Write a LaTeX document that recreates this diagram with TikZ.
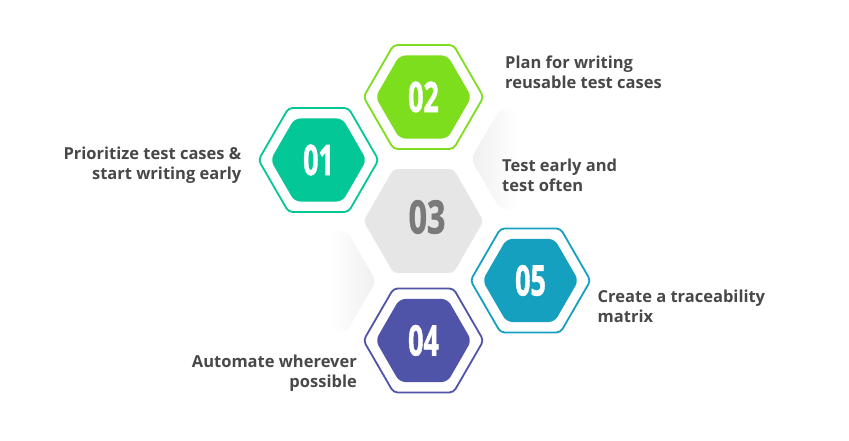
\documentclass[tikz,border=0pt]{standalone}
\usepackage{fontspec}
\setmainfont{Open Sans}
\newfontfamily\numfont[BoldFeatures={FakeBold=1.6}]{Open Sans}
\usetikzlibrary{shapes.geometric,positioning}

\definecolor{tealgreen}{RGB}{3,199,151}
\definecolor{limegreen}{RGB}{124,222,28}
\definecolor{oceanblue}{RGB}{20,160,190}
\definecolor{indigo}{RGB}{80,84,168}
\definecolor{hexgray}{RGB}{230,230,230}
\definecolor{numgray}{RGB}{122,122,122}
\definecolor{txtgray}{RGB}{72,72,72}
\definecolor{ghostgray}{RGB}{220,220,220}

\pgfdeclarehorizontalshading{fadetoright}{100bp}{color(0bp)=(ghostgray); color(45bp)=(white); color(100bp)=(white)}
\pgfdeclarehorizontalshading{fadetoleft}{100bp}{color(0bp)=(white); color(55bp)=(white); color(100bp)=(ghostgray)}

\begin{document}
\begin{tikzpicture}[x=1pt, y=1pt,
  hexring/.style={regular polygon, regular polygon sides=6, minimum size=120pt, inner sep=0pt, draw, line width=1.8pt, rounded corners=4pt},
  hexfill/.style={regular polygon, regular polygon sides=6, minimum size=96pt, inner sep=0pt, rounded corners=6pt, text=white},
  ghost/.style={regular polygon, regular polygon sides=6, minimum size=116pt, inner sep=0pt, rounded corners=6pt},
  num/.style={font=\fontsize{42}{42}\numfont\bfseries},
  caption/.style={font=\fontsize{16.5}{20}\selectfont\bfseries, text=txtgray, inner sep=0pt},
  node distance=10pt, on grid
]
\useasboundingbox[fill=white] (0,0) rectangle (849,441);
\node[hexring, draw=none, fill=hexgray] (h03) at (423.5,220) {};
\node[font=\fontsize{46}{46}\numfont\bfseries, text=numgray, inner sep=0pt] (n03) at ([xshift=3.5pt,yshift=4pt]h03.center) {\scalebox{0.7}[1]{03}};
\node[ghost, shading=fadetoright, above right=62pt and 105.5pt of h03] (ghostR) {};
\node[ghost, shading=fadetoleft, below left=60pt and 105.5pt of h03] (ghostL) {};
\node[hexring, draw=tealgreen, above left=61pt and 105pt of h03] (r01) {};
\node[hexfill, fill=tealgreen, num] (h01) at (r01.center) {\scalebox{0.64}[1]{01}};
\node[hexring, draw=limegreen, above=124pt of h03] (r02) {};
\node[hexfill, fill=limegreen, num] (h02) at (r02.center) {\scalebox{0.64}[1]{02}};
\node[hexring, draw=indigo, below=119.5pt of h03] (r04) {};
\node[hexfill, fill=indigo, num] (h04) at (r04.center) {\scalebox{0.64}[1]{04}};
\node[hexring, draw=oceanblue, below right=59.5pt and 107pt of h03] (r05) {};
\node[hexfill, fill=oceanblue, num] (h05) at (r05.center) {\scalebox{0.64}[1]{05}};
% captions
\node[caption, align=right, anchor=base east] (t01) at (241.5,261) {Prioritize test cases \&\\start writing early};
\node[caption, align=left, anchor=base west] (t02) at (505,352) {Plan for writing\\reusable test cases};
\node[caption, align=left, anchor=base west] (t03) at (502,249.5) {Test early and\\test often};
\node[caption, align=right, anchor=base east] (t04) at (357,53) {Automate wherever\\possible};
\node[caption, align=left, anchor=base west] (t05) at (597.5,118) {Create a traceability\\matrix};
\end{tikzpicture}
\end{document}
